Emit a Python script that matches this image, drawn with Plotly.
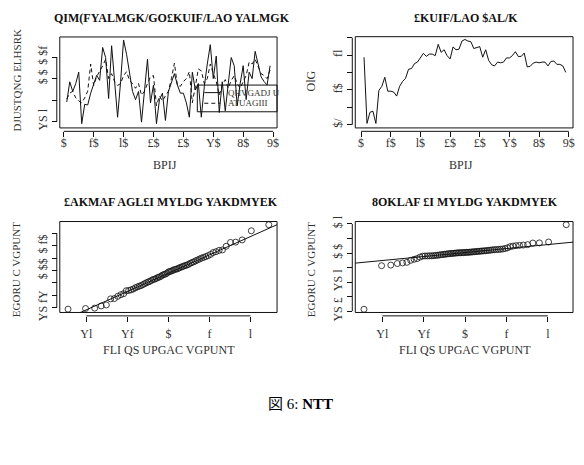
import numpy as np
import plotly.graph_objects as go
from statistics import NormalDist

W, H = 584, 465

# ---------------- data ----------------
time_idx = list(range(1, 70))

observed = [-1.09, -0.15, -0.60, -0.23, 0.30, -2.10, -1.20, -1.23, -0.68, -0.30,
            0.15, -0.08, 1.45, 0.98, -0.93, 1.53, -0.23, -1.80, -0.15, 1.80,
            1.13, 0.23, -0.60, -0.98, -0.60, -2.03, -0.68, 0.90, -1.13, -0.30,
            -2.10, -0.98, -0.68, -1.95, -0.60, -0.23, 0.23, -0.30, -0.68, -0.68,
            -1.13, -1.80, 0.30, -0.53, -0.23, -1.80, -0.37, 0.68, 1.58, 0.00,
            1.05, -1.58, -0.15, -1.50, -0.23, 0.98, 0.60, -1.27, -0.23, 0.60,
            -0.98, 0.30, 0.00, 1.27, 0.68, 0.08, -0.14, -0.30, 0.60]

fitted = [-0.95, -0.68, -0.59, -0.90, -1.04, -1.13, -0.90, -0.59, 0.68, -0.32,
          0.09, 0.32, 0.59, 0.90, 0.00, 0.23, -0.14, -0.32, -0.23, 0.14,
          0.32, -0.09, -0.23, -0.45, -0.23, -0.77, -0.59, -0.23, 0.09, 0.14,
          -1.26, -0.81, -1.04, -0.81, -0.59, 0.00, 0.72, -0.32, -0.36, -0.14,
          0.00, 0.32, -1.13, -0.36, 0.45, 0.36, -0.23, 0.00, 0.68, 0.23,
          -0.14, -0.77, -0.32, -0.05, -0.45, -0.09, 0.14, -0.23, -0.45, -0.14,
          0.14, 0.77, 0.68, 0.90, 0.59, 0.23, 0.14, 0.00, 0.41]

cond_sd = [3.88, 0.08, 0.72, 0.78, 0.08, 1.97, 2.21, 2.73, 1.93, 1.93,
           1.88, 1.65, 2.21, 2.49, 2.67, 3.19, 3.23, 3.51, 3.60, 3.88,
           4.10, 3.93, 4.06, 4.06, 3.97, 4.62, 4.16, 4.31, 3.97, 3.78,
           4.47, 4.31, 4.34, 4.81, 4.90, 4.81, 4.77, 4.38, 4.44, 4.49,
           3.88, 4.31, 3.70, 3.45, 3.38, 3.60, 3.56, 3.60, 3.84, 3.84,
           3.97, 4.20, 3.92, 3.93, 4.12, 3.32, 3.36, 3.54, 3.60, 3.56,
           3.60, 3.60, 3.38, 3.64, 3.66, 3.47, 3.47, 3.38, 3.01]

qq_left = [-3.13, -3.08, -3.05, -2.87, -2.79, -2.30, -2.27, -2.09, -1.96, -1.88,
           -1.64, -1.62, -1.57, -1.50, -1.40, -1.33, -1.27, -1.22, -1.14, -1.06,
           -0.99, -0.93, -0.88, -0.80, -0.73, -0.70, -0.64, -0.57, -0.53, -0.47,
           -0.38, -0.33, -0.29, -0.22, -0.12, -0.08, -0.05, 0.01, 0.07, 0.10,
           0.13, 0.20, 0.25, 0.30, 0.35, 0.40, 0.44, 0.50, 0.58, 0.64,
           0.70, 0.78, 0.85, 0.92, 1.00, 1.06, 1.12, 1.20, 1.30, 1.45,
           1.52, 1.62, 1.66, 1.96, 2.27, 2.29, 2.47, 3.21, 3.70]

qq_right = [-3.87, -0.87, -0.83, -0.72, -0.68, -0.64, -0.50, -0.43, -0.38, -0.28,
            -0.21, -0.20, -0.20, -0.19, -0.19, -0.18, -0.16, -0.15, -0.13, -0.11,
            -0.10, -0.08, -0.07, -0.05, -0.04, -0.03, -0.02, -0.01, 0.00, 0.01,
            0.02, 0.02, 0.03, 0.03, 0.04, 0.05, 0.05, 0.06, 0.07, 0.08,
            0.09, 0.10, 0.11, 0.12, 0.13, 0.14, 0.15, 0.16, 0.17, 0.19,
            0.20, 0.22, 0.23, 0.24, 0.25, 0.26, 0.28, 0.31, 0.36, 0.44,
            0.48, 0.51, 0.53, 0.55, 0.58, 0.69, 0.70, 0.76, 1.95]

time_ticks = [0, 10, 20, 30, 40, 50, 60, 70]
time_ticktext = ["$", "f$", "l$", "£$", "£$", "Y$", "8$", "9$"]
qq_xticks = [-2, -1, 0, 1, 2]
qq_xticktext = ["Yl", "Yf", "$", "f", "l"]

tl_yticks = [-2, -1, 0, 1]
tl_yticktext = ["YS l", "", "$ $", "$ $f"]
tr_yticks = [0, 1, 2, 3, 4, 5]
tr_yticktext = ["$/", "", "f$", "", "fl", ""]
bl_yticks = [-3, -2, -1, 0, 1, 2, 3]
bl_yticktext = ["YS fY", "", "", "$ $$", "", "$ f$", ""]
br_yticks = [-4, -3, -2, -1, 0, 1, 2]
br_yticktext = ["YS £", "", "YS l", "", "$ $", "", "$ l"]

titles = ["QIM(FYALMGK/GO£KUIF/LAO YALMGK", "£KUIF/LAO $AL/K",
          "£AKMAF AGL£I MYLDG YAKDMYEK", "8OKLAF £I MYLDG YAKDMYEK"]
legend_labels = ["QHVGADJ U", "ATUAGIII"]
caption = "図 6: <b>NTT</b>"

# ---------------- helpers ----------------
def fx(px):
    return px / W

def fy(py):
    return 1 - py / H

SERIF = "Liberation Serif, DejaVu Serif, serif"
INK = "#111111"
TXT = "#333333"

fig = go.Figure()

panels = {
    "tl": dict(xa="x", ya="y", px=(60, 278), py=(32, 126), xr=(-1.33, 71.33), yr=(-2.30, 1.94),
               xt=time_ticks, xtt=time_ticktext, yt=tl_yticks, ytt=tl_yticktext, so=-5),
    "tr": dict(xa="x2", ya="y2", px=(356.5, 575), py=(31.7, 126), xr=(-1.95, 71.44), yr=(-0.18, 5.06),
               xt=time_ticks, xtt=time_ticktext, yt=tr_yticks, ytt=tr_yticktext, so=-5),
    "bl": dict(xa="x3", ya="y3", px=(60, 278), py=(222.7, 316.7), xr=(-2.646, 2.646), yr=(-3.40, 3.96),
               xt=qq_xticks, xtt=qq_xticktext, yt=bl_yticks, ytt=bl_yticktext, so=2),
    "br": dict(xa="x4", ya="y4", px=(356.5, 575), py=(222.7, 316.7), xr=(-2.655, 2.61), yr=(-4.09, 2.17),
               xt=qq_xticks, xtt=qq_xticktext, yt=br_yticks, ytt=br_yticktext, so=2),
}

shapes = []
annotations = []
layout_axes = {}
for key, p in panels.items():
    xname = "xaxis" + p["xa"][1:]
    yname = "yaxis" + p["ya"][1:]
    x_axis_y = p["py"][1] + 3.5
    y_axis_x = p["px"][0] - 3.0
    layout_axes[xname] = dict(
        domain=[fx(p["px"][0]), fx(p["px"][1])], range=list(p["xr"]),
        anchor="free", position=fy(x_axis_y),
        showgrid=False, zeroline=False, showline=False,
        ticks="outside", ticklen=5, tickwidth=1, tickcolor=INK,
        tickvals=p["xt"], ticktext=p["xtt"], ticklabelstandoff=p["so"],
        tickfont=dict(family=SERIF, size=12, color=TXT),
    )
    layout_axes[yname] = dict(
        domain=[fy(p["py"][1]), fy(p["py"][0])], range=list(p["yr"]),
        anchor="free", position=fx(y_axis_x),
        showgrid=False, zeroline=False, showline=False,
        ticks="outside", ticklen=5, tickwidth=1, tickcolor=INK,
        tickvals=p["yt"], ticktext=p["ytt"], tickangle=-90,
        tickfont=dict(family=SERIF, size=12, color=TXT),
    )
    shapes.append(dict(type="rect", xref="paper", yref="paper",
                       x0=fx(p["px"][0]), x1=fx(p["px"][1]),
                       y0=fy(p["py"][1]), y1=fy(p["py"][0]),
                       line=dict(color=INK, width=1)))
    shapes.append(dict(type="line", xref=p["xa"], yref="paper",
                       x0=min(p["xt"]), x1=max(p["xt"]),
                       y0=fy(x_axis_y), y1=fy(x_axis_y),
                       line=dict(color=INK, width=1)))
    shapes.append(dict(type="line", xref="paper", yref=p["ya"],
                       x0=fx(y_axis_x), x1=fx(y_axis_x),
                       y0=min(p["yt"]), y1=max(p["yt"]),
                       line=dict(color=INK, width=1)))

# ---------------- traces ----------------
fig.add_trace(go.Scatter(x=time_idx, y=observed, mode="lines",
                         line=dict(color=INK, width=1), xaxis="x", yaxis="y", showlegend=False))
fig.add_trace(go.Scatter(x=time_idx, y=fitted, mode="lines",
                         line=dict(color=INK, width=1, dash="4px,3px"), xaxis="x", yaxis="y", showlegend=False))
fig.add_trace(go.Scatter(x=time_idx, y=cond_sd, mode="lines",
                         line=dict(color=INK, width=1), xaxis="x2", yaxis="y2", showlegend=False))

nd = NormalDist()
for sample, xa, ya in [(qq_left, "x3", "y3"), (qq_right, "x4", "y4")]:
    n = len(sample)
    theo = [nd.inv_cdf((i - 0.5) / n) for i in range(1, n + 1)]
    fig.add_trace(go.Scatter(x=theo, y=sample, mode="markers",
                             marker=dict(symbol="circle-open", size=6, color=INK, line=dict(width=0.8)),
                             xaxis=xa, yaxis=ya, showlegend=False))
    q1, q3 = np.percentile(sample, [25, 75])
    t1, t3 = nd.inv_cdf(0.25), nd.inv_cdf(0.75)
    slope = (q3 - q1) / (t3 - t1)
    inter = q1 - slope * t1
    xs = [-3.0, 3.0]
    fig.add_trace(go.Scatter(x=xs, y=[inter + slope * v for v in xs], mode="lines",
                             line=dict(color=INK, width=1), xaxis=xa, yaxis=ya, showlegend=False))

# ---------------- legend (R style) ----------------
shapes.append(dict(type="rect", xref="paper", yref="paper",
                   x0=fx(198), x1=fx(278), y0=fy(109.3), y1=fy(81.7),
                   line=dict(color=INK, width=1)))
shapes.append(dict(type="line", xref="paper", yref="paper",
                   x0=fx(205), x1=fx(221), y0=fy(89.5), y1=fy(89.5),
                   line=dict(color=INK, width=1)))
shapes.append(dict(type="line", xref="paper", yref="paper",
                   x0=fx(205), x1=fx(221), y0=fy(100.5), y1=fy(100.5),
                   line=dict(color=INK, width=1, dash="4px,3px")))
for lbl, yy in zip(legend_labels, [89.5, 100.5]):
    annotations.append(dict(text=lbl, x=fx(227), y=fy(yy), xref="paper", yref="paper",
                            xanchor="left", yanchor="middle", showarrow=False,
                            font=dict(family=SERIF, size=9, color=TXT)))

# ---------------- texts ----------------
def ann(text, x, y, size=12, bold=False, angle=0, family=SERIF, color=TXT):
    annotations.append(dict(text=("<b>%s</b>" % text) if bold else text,
                            x=fx(x), y=fy(y), xref="paper", yref="paper",
                            xanchor="center", yanchor="middle", showarrow=False,
                            textangle=angle, font=dict(family=family, size=size, color=color)))

ann(titles[0], 173, 12, size=12, bold=True, color=INK)
ann(titles[1], 468, 12, size=12, bold=True, color=INK)
ann(titles[2], 172, 203, size=12, bold=True, color=INK)
ann(titles[3], 467, 203, size=12, bold=True, color=INK)

ann("BPIJ", 166, 164)
ann("BPIJ", 463, 164)
ann("FLI QS UPGAC VGPUNT", 170, 355)
ann("FLI QS UPGAC VGPUNT", 467, 355)

ann("DJUSTQNG ELHSRK", 17, 77, size=11, angle=-90)
ann("OlG", 312, 77, angle=-90)
ann("EGORU C VGPUNT", 16, 272, size=11, angle=-90)
ann("EGORU C VGPUNT", 312, 272, size=11, angle=-90)

annotations.append(dict(text=caption, x=fx(302), y=fy(411), xref="paper", yref="paper",
                        xanchor="center", yanchor="middle", showarrow=False,
                        font=dict(family="Liberation Serif, Noto Sans CJK JP, serif", size=15, color="#000000")))

fig.update_layout(width=W, height=H, autosize=False,
                  margin=dict(l=0, r=0, t=0, b=0),
                  paper_bgcolor="white", plot_bgcolor="white",
                  shapes=shapes, annotations=annotations, **layout_axes)

fig.write_html("out.html")
